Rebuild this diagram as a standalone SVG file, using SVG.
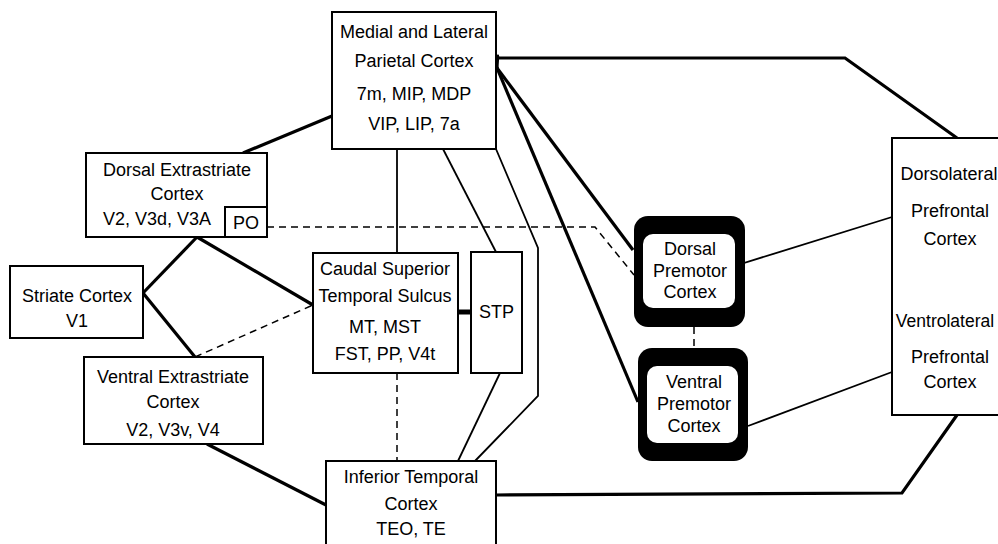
<svg xmlns="http://www.w3.org/2000/svg" width="998" height="544" viewBox="0 0 998 544">
<style>
.box{fill:#fff;stroke:#000;stroke-width:2}
.t{font-family:"Liberation Sans",Arial,sans-serif;font-size:18px;fill:#000;text-anchor:middle}
.thick{fill:none;stroke:#000;stroke-width:3.2}
.thin{fill:none;stroke:#000;stroke-width:1.8}
.dash{fill:none;stroke:#000;stroke-width:1.5;stroke-dasharray:7 5}
.pmo{fill:#000}
.pmi{fill:#fff}
</style>
<defs>
<marker id="arr" markerWidth="14" markerHeight="14" refX="1" refY="7" orient="auto-start-reverse" markerUnits="userSpaceOnUse">
<path d="M13,1 L1,7 L13,13" fill="none" stroke="#000" stroke-width="3"/>
</marker>
</defs>
<rect width="998" height="544" fill="#fff"/>
<g id="connectors">
<line class="thick" x1="332" y1="116" x2="243" y2="153"/>
<line class="thick" x1="197" y1="237" x2="143" y2="293"/>
<line class="thick" x1="197" y1="237" x2="313" y2="305"/>
<line class="thick" x1="143" y1="293" x2="195" y2="357"/>
<line class="dash" x1="195" y1="357" x2="313" y2="305"/>
<line class="thick" x1="207" y1="444" x2="326" y2="505"/>
<line class="thin" x1="397" y1="149" x2="397" y2="253"/>
<line class="dash" x1="397" y1="373" x2="397" y2="461"/>
<line class="thin" x1="443" y1="149" x2="496" y2="252"/>
<line x1="458" y1="312" x2="471" y2="312" stroke="#000" stroke-width="5"/>
<line class="thin" x1="500" y1="373" x2="458" y2="461"/>
<polyline class="thin" points="496,149 538,248 538,396 475,461"/>
<polyline class="dash" points="267,227 595,227 634,275"/>
<line class="thick" x1="497" y1="68" x2="633" y2="250" marker-start="url(#arr)"/>
<line class="thick" x1="497" y1="68" x2="638" y2="402" marker-start="url(#arr)"/>
<polyline class="thick" points="496,58 845,58 957,138"/>
<polyline class="thick" points="496,495 902,493 957,415"/>
<line class="dash" x1="694" y1="327" x2="694" y2="348"/>
<line class="thin" x1="728" y1="268" x2="892" y2="217"/>
<line class="thin" x1="748" y1="426" x2="892" y2="372"/>
</g>
<g id="parietal">
<rect class="box" x="332" y="12" width="164" height="137"/>
<text class="t" x="414" y="38">Medial and Lateral</text>
<text class="t" x="414" y="67">Parietal Cortex</text>
<text class="t" x="414" y="100">7m, MIP, MDP</text>
<text class="t" x="414" y="130">VIP, LIP, 7a</text>
</g>
<g id="dorsal-extrastriate">
<rect class="box" x="86" y="153" width="181" height="84"/>
<text class="t" x="177" y="176">Dorsal Extrastriate</text>
<text class="t" x="177" y="200">Cortex</text>
<text class="t" x="157" y="225">V2, V3d, V3A</text>
</g>
<g id="po">
<rect class="box" x="225" y="207" width="42" height="30"/>
<text class="t" x="246" y="229">PO</text>
</g>
<g id="striate">
<rect class="box" x="10" y="266" width="133" height="72"/>
<text class="t" x="77" y="302">Striate Cortex</text>
<text class="t" x="77" y="327">V1</text>
</g>
<g id="ventral-extrastriate">
<rect class="box" x="84" y="357" width="179" height="87"/>
<text class="t" x="173" y="383">Ventral Extrastriate</text>
<text class="t" x="173" y="408">Cortex</text>
<text class="t" x="173" y="436">V2, V3v, V4</text>
</g>
<g id="caudal-sts">
<rect class="box" x="313" y="253" width="145" height="120"/>
<text class="t" x="385" y="275">Caudal Superior</text>
<text class="t" x="385" y="302">Temporal Sulcus</text>
<text class="t" x="385" y="333">MT, MST</text>
<text class="t" x="385" y="360">FST, PP, V4t</text>
</g>
<g id="stp">
<rect class="box" x="471" y="252" width="51" height="121"/>
<text class="t" x="496.5" y="318">STP</text>
</g>
<g id="inferior-temporal">
<rect class="box" x="326" y="461" width="170" height="90"/>
<text class="t" x="411" y="483">Inferior Temporal</text>
<text class="t" x="411" y="510">Cortex</text>
<text class="t" x="411" y="535">TEO, TE</text>
</g>
<g id="dorsal-premotor">
<rect class="pmo" x="634" y="216" width="111" height="111" rx="14"/>
<rect class="pmi" x="643" y="234" width="92" height="74" rx="10"/>
<text class="t" x="690" y="255">Dorsal</text>
<text class="t" x="690" y="277">Premotor</text>
<text class="t" x="690" y="298">Cortex</text>
</g>
<g id="ventral-premotor">
<rect class="pmo" x="638" y="348" width="110" height="113" rx="14"/>
<rect class="pmi" x="647" y="366" width="91" height="77" rx="10"/>
<text class="t" x="694" y="388">Ventral</text>
<text class="t" x="694" y="410">Premotor</text>
<text class="t" x="694" y="432">Cortex</text>
</g>
<g id="prefrontal">
<rect class="box" x="892" y="138" width="120" height="277"/>
<text class="t" x="949" y="180">Dorsolateral</text>
<text class="t" x="950" y="217">Prefrontal</text>
<text class="t" x="950" y="245">Cortex</text>
<text class="t" x="945" y="327" style="font-size:17.5px">Ventrolateral</text>
<text class="t" x="950" y="363">Prefrontal</text>
<text class="t" x="950" y="388">Cortex</text>
</g>
</svg>
